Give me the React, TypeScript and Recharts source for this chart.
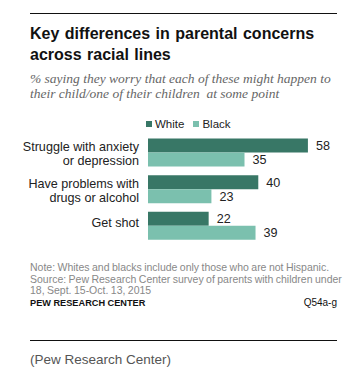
import { Bar, BarChart, LabelList, Legend, XAxis, YAxis } from 'recharts';

// Pew: parents' worries by race (White vs Black, %)
const categories = ['Struggle with anxiety|or depression', 'Have problems with|drugs or alcohol', 'Get shot'];
const whiteValues = [58, 40, 22];
const blackValues = [35, 23, 39];

const WHITE_COLOR = '#387766';
const BLACK_COLOR = '#7bc0ae';
const SANS = '"Liberation Sans", Arial, sans-serif';

const rows = categories.map((name, i) => ({ name, white: whiteValues[i], black: blackValues[i] }));

function CategoryTick({ y, payload }: any) {
  const lines = String(payload.value).split('|');
  const offsets = lines.length === 1 ? [-3] : [-6, 8];
  return (
    <text x={139} y={y} textAnchor="end" fontSize={12.6} fill="#222" fontFamily={SANS}>
      {lines.map((line, i) => (
        <tspan key={i} x={139} y={y + offsets[i]} dominantBaseline="central">{line}</tspan>
      ))}
    </text>
  );
}

function LegendBox() {
  const items = [
    { label: 'White', color: WHITE_COLOR },
    { label: 'Black', color: BLACK_COLOR },
  ];
  return (
    <div style={{ display: 'flex', alignItems: 'center', fontFamily: SANS, fontSize: 11.5, color: '#222' }}>
      {items.map((it) => (
        <div key={it.label} style={{ display: 'flex', alignItems: 'center', marginRight: 9 }}>
          <span style={{ width: 6, height: 6, background: it.color, marginRight: 3, display: 'inline-block' }} />
          <span>{it.label}</span>
        </div>
      ))}
    </div>
  );
}

export default function App() {
  const abs = (top: number, extra: any = {}) => ({ position: 'absolute' as const, left: 30, top, whiteSpace: 'nowrap' as const, ...extra });
  const small = { fontSize: 10.5, wordSpacing: -0.5, color: '#888' };
  return (
    <div style={{ position: 'absolute', left: 0, top: 0, width: 364, height: 383, background: '#fff', fontFamily: SANS }}>
      <div style={abs(13, { width: 307, height: 1, background: '#111' })} />
      <div style={abs(22.5, { fontSize: 16, fontWeight: 700, lineHeight: '21px', color: '#111', wordSpacing: 1 })}>
        Key differences in parental concerns<br />across racial lines
      </div>
      <div style={abs(70.5, { fontFamily: '"Liberation Serif", serif', fontStyle: 'italic', fontSize: 13.5, lineHeight: '15px', color: '#666' })}>
        % saying they worry that each of these might happen to<br />their child/one of their children &nbsp;at some point
      </div>

      <div style={{ position: 'absolute', left: 0, top: 110 }}>
        <BarChart
          width={364}
          height={140}
          data={rows}
          layout="vertical"
          margin={{ top: 24.5, right: 23, bottom: 5.5, left: 0 }}
          barCategoryGap={4}
          barGap={0}
        >
          <XAxis type="number" domain={[0, 70]} hide />
          <YAxis type="category" dataKey="name" width={148} tickLine={false} axisLine={false} tick={<CategoryTick />} interval={0} />
          <Legend
            layout="horizontal"
            verticalAlign="middle"
            align="center"
            content={<LegendBox />}
            wrapperStyle={{ top: 8, left: 146, width: 120, height: 12 }}
          />
          <Bar dataKey="white" name="White" fill={WHITE_COLOR} isAnimationActive={false}>
            <LabelList dataKey="white" position="right" offset={8} fontSize={12.6} fill="#222" fontFamily={SANS} />
          </Bar>
          <Bar dataKey="black" name="Black" fill={BLACK_COLOR} isAnimationActive={false}>
            <LabelList dataKey="black" position="right" offset={8} fontSize={12.6} fill="#222" fontFamily={SANS} />
          </Bar>
        </BarChart>
      </div>

      <div style={abs(260.5, { ...small, lineHeight: '13px' })}>
        Note: Whites and blacks include only those who are not Hispanic.
      </div>
      <div style={abs(273.5, { ...small, lineHeight: '11px' })}>
        Source: Pew Research Center survey of parents with children under<br />18, Sept. 15-Oct. 13, 2015
      </div>
      <div style={abs(297, { width: 307, fontSize: 9.2, lineHeight: '12px', fontWeight: 700, color: '#111', display: 'flex', justifyContent: 'space-between' })}>
        <span>PEW RESEARCH CENTER</span>
        <span style={{ fontWeight: 400, fontSize: 10 }}>Q54a-g</span>
      </div>
      <div style={abs(340, { width: 307, height: 1, background: '#111' })} />
      <div style={abs(352, { fontSize: 13.5, lineHeight: '16px', color: '#555' })}>(Pew Research Center)</div>
    </div>
  );
}
